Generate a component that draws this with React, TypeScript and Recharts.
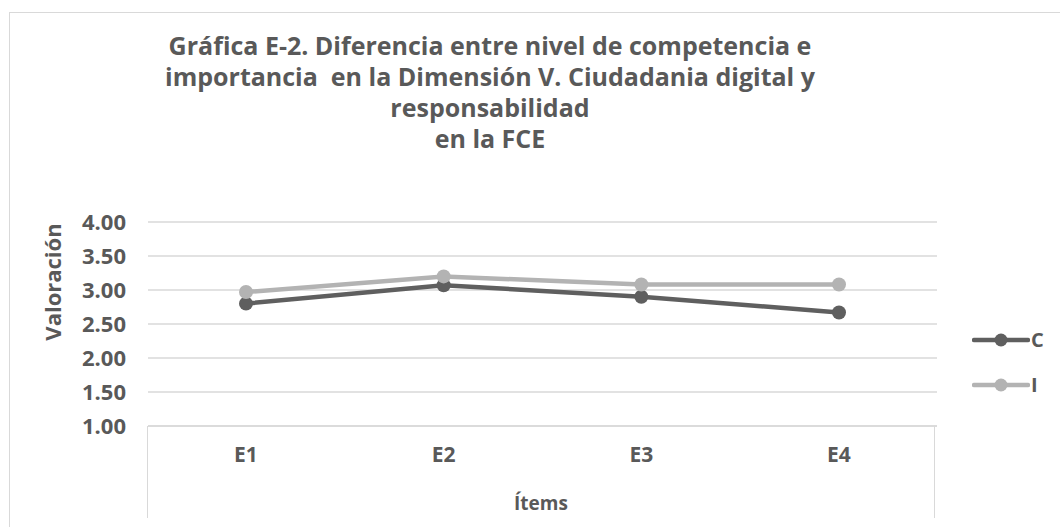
import React from 'react';
import { LineChart, Line, XAxis, YAxis, CartesianGrid, Legend } from 'recharts';

const categories = ['E1', 'E2', 'E3', 'E4'];
const seriesC = [2.8, 3.07, 2.9, 2.67];
const seriesI = [2.97, 3.2, 3.08, 3.08];
const yTicks = [1, 1.5, 2, 2.5, 3, 3.5, 4];
const titleLines = [
  'Gráfica E-2. Diferencia entre nivel de competencia e',
  'importancia  en la Dimensión V. Ciudadania digital y',
  'responsabilidad',
  'en la FCE',
];
const seriesNames = ['C', 'I'];
const seriesColors = ['#5f5f5f', '#b3b3b3'];

const data = categories.map((c, i) => ({ name: c, C: seriesC[i], I: seriesI[i] }));

const FONT = '"Open Sans", sans-serif';
const TEXT = '#595959';
const GRID = '#d9d9d9';

const LegendContent = () => (
  <div style={{ fontFamily: FONT }}>
    {seriesNames.map((n, i) => (
      <div key={n} style={{ display: 'flex', alignItems: 'center', height: 45 }}>
        <svg width={58} height={16}>
          <line x1={2} y1={8} x2={56} y2={8} stroke={seriesColors[i]} strokeWidth={4.5} strokeLinecap="round" />
          <circle cx={29} cy={8} r={6.5} fill={seriesColors[i]} />
        </svg>
        <span style={{ fontWeight: 700, fontSize: 20, color: TEXT, marginLeft: 1 }}>{n}</span>
      </div>
    ))}
  </div>
);

export default function App() {
  return (
    <div style={{ position: 'absolute', left: 0, top: 0, width: 1060, height: 527, background: '#fff', overflow: 'hidden', fontFamily: FONT }}>
      <div style={{ position: 'absolute', left: 9, top: 12, width: 1100, height: 600, borderLeft: `1.5px solid ${GRID}`, borderTop: `1.5px solid ${GRID}` }} />
      <div style={{ position: 'absolute', left: 140, width: 700, top: 30, textAlign: 'center', color: TEXT, fontWeight: 700, fontSize: 25, lineHeight: '31px', whiteSpace: 'pre' }}>
        {titleLines.map((t) => (
          <div key={t}>{t}</div>
        ))}
      </div>
      <div style={{ position: 'absolute', left: 0, top: 0 }}>
        <LineChart width={1060} height={527} data={data} margin={{ top: 222, right: 43, bottom: 41, left: 0 }}>
          <CartesianGrid vertical={false} stroke={GRID} strokeWidth={1.5} />
          <XAxis
            dataKey="name"
            height={60}
            padding={{ left: 98, right: 98 }}
            axisLine={{ stroke: GRID, strokeWidth: 1.5 }}
            tickLine={false}
            tickSize={0}
            tickMargin={21}
            tick={{ fill: TEXT, fontSize: 21, fontWeight: 700, fontFamily: FONT }}
          />
          <YAxis
            width={148}
            domain={[1, 4]}
            ticks={yTicks}
            interval={0}
            axisLine={false}
            tickLine={false}
            tickSize={0}
            tickMargin={22}
            tickFormatter={(v: number) => v.toFixed(2)}
            tick={{ fill: TEXT, fontSize: 22, fontWeight: 700, fontFamily: FONT }}
          />
          <Legend
            layout="horizontal"
            verticalAlign="middle"
            align="right"
            wrapperStyle={{ left: 972, top: 317, width: 80 }}
            content={<LegendContent />}
          />
          <Line dataKey="C" stroke={seriesColors[0]} strokeWidth={4.5} dot={{ r: 7, fill: seriesColors[0], stroke: 'none' }} activeDot={false} isAnimationActive={false} />
          <Line dataKey="I" stroke={seriesColors[1]} strokeWidth={4.5} dot={{ r: 7, fill: seriesColors[1], stroke: 'none' }} activeDot={false} isAnimationActive={false} />
        </LineChart>
      </div>
      <div style={{ position: 'absolute', left: 147, top: 426, width: 0, height: 92, borderLeft: `1.5px solid ${GRID}` }} />
      <div style={{ position: 'absolute', left: 934, top: 426, width: 0, height: 92, borderLeft: `1.5px solid ${GRID}` }} />
      <div style={{ position: 'absolute', left: 52, top: 282, transform: 'translate(-50%, -50%) rotate(-90deg)', color: TEXT, fontWeight: 700, fontSize: 22, whiteSpace: 'nowrap' }}>
        Valoración
      </div>
      <div style={{ position: 'absolute', left: 541, top: 503, transform: 'translate(-50%, -50%)', color: TEXT, fontWeight: 700, fontSize: 19, whiteSpace: 'nowrap' }}>
        Ítems
      </div>
    </div>
  );
}
